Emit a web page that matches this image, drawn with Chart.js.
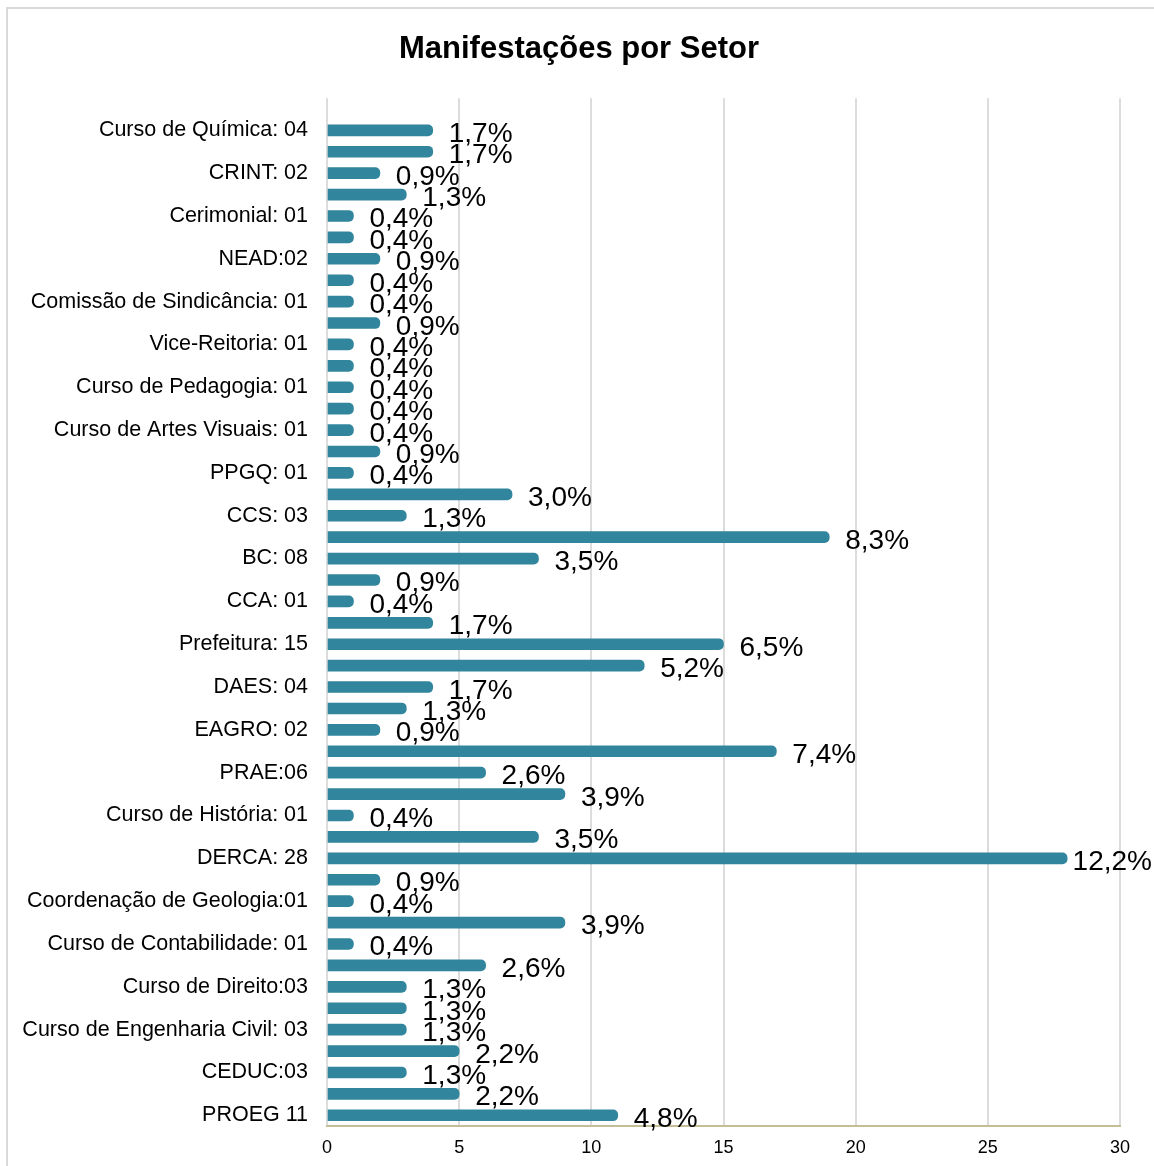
<!DOCTYPE html>
<html>
<head>
<meta charset="utf-8">
<script src="https://cdn.jsdelivr.net/npm/chart.js@4/dist/chart.umd.min.js"></script>
<style>
  html, body { margin: 0; padding: 0; background: #fff; overflow: hidden; }
  #frame { position: absolute; left: 6px; top: 7px; width: 1200px; height: 1200px; border: 2px solid #d9d9d9; }
  #c { position: absolute; left: 0; top: 0; }
</style>
</head>
<body>
<div id="frame"></div>
<canvas id="c" width="1154" height="1166"></canvas>
<script>
// Categories listed top to bottom (empty strings = category labels not shown in the original)
const categories = [
  "", "Curso de Química: 04",
  "", "CRINT: 02",
  "", "Cerimonial: 01",
  "", "NEAD:02",
  "", "Comissão de Sindicância: 01",
  "", "Vice-Reitoria: 01",
  "", "Curso de Pedagogia: 01",
  "", "Curso de Artes Visuais: 01",
  "", "PPGQ: 01",
  "", "CCS: 03",
  "", "BC: 08",
  "", "CCA: 01",
  "", "Prefeitura: 15",
  "", "DAES: 04",
  "", "EAGRO: 02",
  "", "PRAE:06",
  "", "Curso de História: 01",
  "", "DERCA: 28",
  "", "Coordenação de Geologia:01",
  "", "Curso de Contabilidade: 01",
  "", "Curso de Direito:03",
  "", "Curso de Engenharia Civil: 03",
  "", "CEDUC:03",
  "", "PROEG 11"
];

const counts = [
  null,
  4, 4, 2, 3, 1, 1, 2, 1, 1, 2,
  1, 1, 1, 1, 1, 2, 1, 7, 3, 19,
  8, 2, 1, 4, 15, 12, 4, 3, 2, 17,
  6, 9, 1, 8, 28, 2, 1, 9, 1, 6,
  3, 3, 3, 5, 3, 5, 11
];

const percentLabels = [
  "",
  "1,7%", "1,7%", "0,9%", "1,3%", "0,4%", "0,4%", "0,9%", "0,4%", "0,4%", "0,9%",
  "0,4%", "0,4%", "0,4%", "0,4%", "0,4%", "0,9%", "0,4%", "3,0%", "1,3%", "8,3%",
  "3,5%", "0,9%", "0,4%", "1,7%", "6,5%", "5,2%", "1,7%", "1,3%", "0,9%", "7,4%",
  "2,6%", "3,9%", "0,4%", "3,5%", "12,2%", "0,9%", "0,4%", "3,9%", "0,4%", "2,6%",
  "1,3%", "1,3%", "1,3%", "2,2%", "1,3%", "2,2%", "4,8%"
];

const xTicks = [0, 5, 10, 15, 20, 25, 30];

const FONT = "'Liberation Sans', Arial, Helvetica, sans-serif";

const valueLabelPlugin = {
  id: 'valueLabels',
  afterDatasetsDraw(chart) {
    const ctx = chart.ctx;
    const meta = chart.getDatasetMeta(0);
    ctx.save();
    ctx.font = "28px " + FONT;
    ctx.fillStyle = "#000";
    ctx.textBaseline = "alphabetic";
    ctx.textAlign = "left";
    meta.data.forEach((bar, i) => {
      const txt = percentLabels[i];
      if (!txt) return;
      const w = ctx.measureText(txt).width;
      let x = bar.x + 16;
      if (x + w > chart.width - 2) x = chart.width - 2 - w;
      const y = bar.y + 11.5;
      ctx.fillText(txt, x, y);
    });
    ctx.restore();
  }
};

new Chart(document.getElementById('c'), {
  type: 'bar',
  data: {
    labels: categories,
    datasets: [{
      data: counts,
      backgroundColor: '#31859C',
      barThickness: 11,
      borderRadius: 5,
      borderSkipped: 'start'
    }]
  },
  options: {
    indexAxis: 'y',
    responsive: false,
    animation: false,
    devicePixelRatio: 1,
    layout: { padding: { top: 0, left: 4, right: 0, bottom: 0 } },
    plugins: {
      legend: { display: false },
      tooltip: { enabled: false },
      title: {
        display: true,
        text: 'Manifestações por Setor',
        color: '#000',
        font: { family: FONT, size: 31, weight: 'bold' },
        padding: { top: 31, bottom: 30 }
      }
    },
    scales: {
      x: {
        min: 0,
        max: 30,
        afterBuildTicks(scale) { scale.ticks = xTicks.map(v => ({ value: v })); },
        afterFit(scale) { scale.height = 40; },
        grid: { color: '#dcdcdc', lineWidth: 2, drawTicks: false },
        border: { display: true, color: '#c4bd97', width: 2 },
        ticks: { color: '#000', padding: 11, font: { family: FONT, size: 18 } }
      },
      y: {
        afterFit(scale) { scale.width = 323; },
        grid: { display: false, drawTicks: false },
        border: { display: false },
        ticks: { autoSkip: false, color: '#000', padding: 19, font: { family: FONT, size: 21.5 } }
      },
      yRight: {
        type: 'category',
        axis: 'y',
        position: 'right',
        afterFit(scale) { scale.width = 34; },
        grid: { display: false, drawTicks: false },
        border: { display: false },
        ticks: { display: false }
      }
    }
  },
  plugins: [valueLabelPlugin]
});
</script>
</body>
</html>
